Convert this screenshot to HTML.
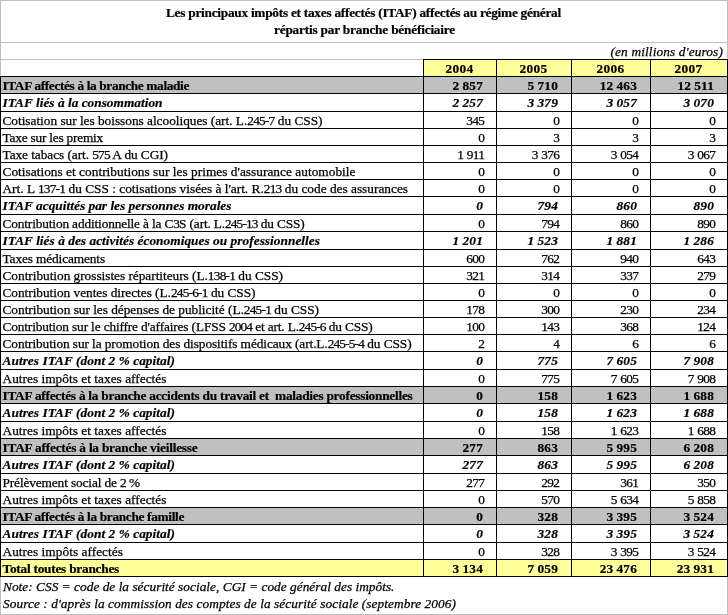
<!DOCTYPE html>
<html lang="fr"><head><meta charset="utf-8"><title>ITAF</title>
<style>
html,body{margin:0;padding:0;background:#fff;}
body{width:728px;height:615px;position:relative;overflow:hidden;font-family:"Liberation Serif",serif;font-size:13.33px;color:#000;}
.a{position:absolute;white-space:pre;line-height:17px;height:17px;-webkit-text-stroke:0.25px #000;}
.l{position:absolute;background:#000;}
.gl{position:absolute;background:#c0c0c0;}
.bg{position:absolute;}
.b{font-weight:bold;-webkit-text-stroke:0.2px #000;}
.i{font-style:italic;}
.r{text-align:right;}
.c{text-align:center;}
.nr{letter-spacing:-0.6px;word-spacing:0.6px;}
.br{letter-spacing:0.3px;word-spacing:-0.8px;}
</style></head><body>

<div class="gl" style="left:0;top:0;width:728px;height:1px"></div>
<div class="gl" style="left:0;top:0;width:1px;height:615px"></div>
<div class="gl" style="left:727px;top:0;width:1px;height:615px"></div>
<div class="gl" style="left:0;top:614px;width:728px;height:1px"></div>
<div class="gl" style="left:0;top:42px;width:728px;height:1px"></div>
<div class="gl" style="left:0;top:59px;width:423px;height:1px"></div>
<div id="t1" class="a b" style="left:166px;top:4px;letter-spacing:-0.265px">Les principaux impôts et taxes affectés (ITAF) affectés au régime général</div>
<div id="t2" class="a b" style="left:274px;top:21px;letter-spacing:-0.210px">répartis par branche bénéficiaire</div>
<div id="unit" class="a i" style="left:610.5px;top:43px;letter-spacing:0.132px">(en millions d'euros)</div>
<div class="bg" style="left:423px;top:59px;width:305px;height:18px;background:#ffff99"></div>
<div class="a b c" style="left:423px;top:60px;width:73px;letter-spacing:0.3px">2004</div>
<div class="a b c" style="left:496px;top:60px;width:75px;letter-spacing:0.3px">2005</div>
<div class="a b c" style="left:571px;top:60px;width:79px;letter-spacing:0.3px">2006</div>
<div class="a b c" style="left:650px;top:60px;width:77px;letter-spacing:0.3px">2007</div>
<div class="bg" style="left:0;top:76px;width:728px;height:17px;background:#c0c0c0"></div>
<div id="r0" class="a b" style="left:2.5px;top:77px;letter-spacing:-0.361px">ITAF affectés à la branche maladie</div>
<div class="a b br r" style="left:424px;top:77px;width:59.3px;">2 857</div>
<div class="a b br r" style="left:497px;top:77px;width:61.3px;">5 710</div>
<div class="a b br r" style="left:572px;top:77px;width:65.3px;">12 463</div>
<div class="a b br r" style="left:651px;top:77px;width:63.3px;">12 511</div>
<div id="r1" class="a b i" style="left:2.5px;top:94px;letter-spacing:0.010px">ITAF liés à la consommation</div>
<div class="a b i br r" style="left:424px;top:94px;width:59.3px;">2 257</div>
<div class="a b i br r" style="left:497px;top:94px;width:61.3px;">3 379</div>
<div class="a b i br r" style="left:572px;top:94px;width:65.3px;">3 057</div>
<div class="a b i br r" style="left:651px;top:94px;width:63.3px;">3 070</div>
<div id="r2" class="a " style="left:2.5px;top:112px;letter-spacing:-0.022px">Cotisation sur les boissons alcooliques (art. L.<span style="letter-spacing:-0.772px">245-7</span> du CSS)</div>
<div class="a nr r" style="left:424px;top:112px;width:60.4px;">345</div>
<div class="a nr r" style="left:497px;top:112px;width:62.4px;">0</div>
<div class="a nr r" style="left:572px;top:112px;width:66.4px;">0</div>
<div class="a nr r" style="left:651px;top:112px;width:64.4px;">0</div>
<div id="r3" class="a " style="left:2.5px;top:129px;letter-spacing:-0.214px">Taxe sur les premix</div>
<div class="a nr r" style="left:424px;top:129px;width:60.4px;">0</div>
<div class="a nr r" style="left:497px;top:129px;width:62.4px;">3</div>
<div class="a nr r" style="left:572px;top:129px;width:66.4px;">3</div>
<div class="a nr r" style="left:651px;top:129px;width:64.4px;">3</div>
<div id="r4" class="a " style="left:2.5px;top:146px;letter-spacing:-0.064px">Taxe tabacs (art. <span style="letter-spacing:-0.814px">575</span> A du CGI)</div>
<div class="a nr r" style="left:424px;top:146px;width:60.4px;">1 911</div>
<div class="a nr r" style="left:497px;top:146px;width:62.4px;">3 376</div>
<div class="a nr r" style="left:572px;top:146px;width:66.4px;">3 054</div>
<div class="a nr r" style="left:651px;top:146px;width:64.4px;">3 067</div>
<div id="r5" class="a " style="left:2.5px;top:163px;letter-spacing:0.023px">Cotisations et contributions sur les primes d'assurance automobile</div>
<div class="a nr r" style="left:424px;top:163px;width:60.4px;">0</div>
<div class="a nr r" style="left:497px;top:163px;width:62.4px;">0</div>
<div class="a nr r" style="left:572px;top:163px;width:66.4px;">0</div>
<div class="a nr r" style="left:651px;top:163px;width:64.4px;">0</div>
<div id="r6" class="a " style="left:2.5px;top:180px;letter-spacing:-0.003px">Art. L <span style="letter-spacing:-0.753px">137-1</span> du CSS : cotisations visées à l'art. R.<span style="letter-spacing:-0.753px">213</span> du code des assurances</div>
<div class="a nr r" style="left:424px;top:180px;width:60.4px;">0</div>
<div class="a nr r" style="left:497px;top:180px;width:62.4px;">0</div>
<div class="a nr r" style="left:572px;top:180px;width:66.4px;">0</div>
<div class="a nr r" style="left:651px;top:180px;width:64.4px;">0</div>
<div id="r7" class="a b i" style="left:2.5px;top:197px;letter-spacing:0.020px">ITAF acquittés par les personnes morales</div>
<div class="a b i br r" style="left:424px;top:197px;width:59.3px;">0</div>
<div class="a b i br r" style="left:497px;top:197px;width:61.3px;">794</div>
<div class="a b i br r" style="left:572px;top:197px;width:65.3px;">860</div>
<div class="a b i br r" style="left:651px;top:197px;width:63.3px;">890</div>
<div id="r8" class="a " style="left:2.5px;top:215px;letter-spacing:-0.141px">Contribution additionnelle à la C<span style="letter-spacing:-0.891px">3</span>S (art. L.<span style="letter-spacing:-0.891px">245-13</span> du CSS)</div>
<div class="a nr r" style="left:424px;top:215px;width:60.4px;">0</div>
<div class="a nr r" style="left:497px;top:215px;width:62.4px;">794</div>
<div class="a nr r" style="left:572px;top:215px;width:66.4px;">860</div>
<div class="a nr r" style="left:651px;top:215px;width:64.4px;">890</div>
<div id="r9" class="a b i" style="left:2.5px;top:232px;letter-spacing:0.034px">ITAF liés à des activités économiques ou professionnelles</div>
<div class="a b i br r" style="left:424px;top:232px;width:59.3px;">1 201</div>
<div class="a b i br r" style="left:497px;top:232px;width:61.3px;">1 523</div>
<div class="a b i br r" style="left:572px;top:232px;width:65.3px;">1 881</div>
<div class="a b i br r" style="left:651px;top:232px;width:63.3px;">1 286</div>
<div id="r10" class="a " style="left:2.5px;top:250px;letter-spacing:-0.120px">Taxes médicaments</div>
<div class="a nr r" style="left:424px;top:250px;width:60.4px;">600</div>
<div class="a nr r" style="left:497px;top:250px;width:62.4px;">762</div>
<div class="a nr r" style="left:572px;top:250px;width:66.4px;">940</div>
<div class="a nr r" style="left:651px;top:250px;width:64.4px;">643</div>
<div id="r11" class="a " style="left:2.5px;top:267px;letter-spacing:-0.030px">Contribution grossistes répartiteurs (L.<span style="letter-spacing:-0.780px">138-1</span> du CSS)</div>
<div class="a nr r" style="left:424px;top:267px;width:60.4px;">321</div>
<div class="a nr r" style="left:497px;top:267px;width:62.4px;">314</div>
<div class="a nr r" style="left:572px;top:267px;width:66.4px;">337</div>
<div class="a nr r" style="left:651px;top:267px;width:64.4px;">279</div>
<div id="r12" class="a " style="left:2.5px;top:284px;letter-spacing:-0.035px">Contribution ventes directes (L.<span style="letter-spacing:-0.785px">245-6-1</span> du CSS)</div>
<div class="a nr r" style="left:424px;top:284px;width:60.4px;">0</div>
<div class="a nr r" style="left:497px;top:284px;width:62.4px;">0</div>
<div class="a nr r" style="left:572px;top:284px;width:66.4px;">0</div>
<div class="a nr r" style="left:651px;top:284px;width:64.4px;">0</div>
<div id="r13" class="a " style="left:2.5px;top:301px;letter-spacing:-0.025px">Contribution sur les dépenses de publicité (L.<span style="letter-spacing:-0.775px">245-1</span> du CSS)</div>
<div class="a nr r" style="left:424px;top:301px;width:60.4px;">178</div>
<div class="a nr r" style="left:497px;top:301px;width:62.4px;">300</div>
<div class="a nr r" style="left:572px;top:301px;width:66.4px;">230</div>
<div class="a nr r" style="left:651px;top:301px;width:64.4px;">234</div>
<div id="r14" class="a " style="left:2.5px;top:318px;letter-spacing:-0.145px">Contribution sur le chiffre d'affaires (LFSS <span style="letter-spacing:-0.895px">2004</span> et art. L.<span style="letter-spacing:-0.895px">245-6</span> du CSS)</div>
<div class="a nr r" style="left:424px;top:318px;width:60.4px;">100</div>
<div class="a nr r" style="left:497px;top:318px;width:62.4px;">143</div>
<div class="a nr r" style="left:572px;top:318px;width:66.4px;">368</div>
<div class="a nr r" style="left:651px;top:318px;width:64.4px;">124</div>
<div id="r15" class="a " style="left:2.5px;top:335px;letter-spacing:-0.087px">Contribution sur la promotion des dispositifs médicaux (art.L.<span style="letter-spacing:-0.837px">245-5-4</span> du CSS)</div>
<div class="a nr r" style="left:424px;top:335px;width:60.4px;">2</div>
<div class="a nr r" style="left:497px;top:335px;width:62.4px;">4</div>
<div class="a nr r" style="left:572px;top:335px;width:66.4px;">6</div>
<div class="a nr r" style="left:651px;top:335px;width:64.4px;">6</div>
<div id="r16" class="a b i" style="left:2.5px;top:352px;letter-spacing:0.043px">Autres ITAF (dont 2 % capital)</div>
<div class="a b i br r" style="left:424px;top:352px;width:59.3px;">0</div>
<div class="a b i br r" style="left:497px;top:352px;width:61.3px;">775</div>
<div class="a b i br r" style="left:572px;top:352px;width:65.3px;">7 605</div>
<div class="a b i br r" style="left:651px;top:352px;width:63.3px;">7 908</div>
<div id="r17" class="a " style="left:2.5px;top:370px;letter-spacing:0.021px">Autres impôts et taxes affectés</div>
<div class="a nr r" style="left:424px;top:370px;width:60.4px;">0</div>
<div class="a nr r" style="left:497px;top:370px;width:62.4px;">775</div>
<div class="a nr r" style="left:572px;top:370px;width:66.4px;">7 605</div>
<div class="a nr r" style="left:651px;top:370px;width:64.4px;">7 908</div>
<div class="bg" style="left:0;top:386px;width:728px;height:17px;background:#c0c0c0"></div>
<div id="r18" class="a b" style="left:2.5px;top:387px;letter-spacing:-0.254px">ITAF affectés à la branche accidents du travail et  maladies professionnelles</div>
<div class="a b br r" style="left:424px;top:387px;width:59.3px;">0</div>
<div class="a b br r" style="left:497px;top:387px;width:61.3px;">158</div>
<div class="a b br r" style="left:572px;top:387px;width:65.3px;">1 623</div>
<div class="a b br r" style="left:651px;top:387px;width:63.3px;">1 688</div>
<div id="r19" class="a b i" style="left:2.5px;top:404px;letter-spacing:0.043px">Autres ITAF (dont 2 % capital)</div>
<div class="a b i br r" style="left:424px;top:404px;width:59.3px;">0</div>
<div class="a b i br r" style="left:497px;top:404px;width:61.3px;">158</div>
<div class="a b i br r" style="left:572px;top:404px;width:65.3px;">1 623</div>
<div class="a b i br r" style="left:651px;top:404px;width:63.3px;">1 688</div>
<div id="r20" class="a " style="left:2.5px;top:422px;letter-spacing:0.021px">Autres impôts et taxes affectés</div>
<div class="a nr r" style="left:424px;top:422px;width:60.4px;">0</div>
<div class="a nr r" style="left:497px;top:422px;width:62.4px;">158</div>
<div class="a nr r" style="left:572px;top:422px;width:66.4px;">1 623</div>
<div class="a nr r" style="left:651px;top:422px;width:64.4px;">1 688</div>
<div class="bg" style="left:0;top:438px;width:728px;height:17px;background:#c0c0c0"></div>
<div id="r21" class="a b" style="left:2.5px;top:439px;letter-spacing:-0.222px">ITAF affectés à la branche vieillesse</div>
<div class="a b br r" style="left:424px;top:439px;width:59.3px;">277</div>
<div class="a b br r" style="left:497px;top:439px;width:61.3px;">863</div>
<div class="a b br r" style="left:572px;top:439px;width:65.3px;">5 995</div>
<div class="a b br r" style="left:651px;top:439px;width:63.3px;">6 208</div>
<div id="r22" class="a b i" style="left:2.5px;top:456px;letter-spacing:0.043px">Autres ITAF (dont 2 % capital)</div>
<div class="a b i br r" style="left:424px;top:456px;width:59.3px;">277</div>
<div class="a b i br r" style="left:497px;top:456px;width:61.3px;">863</div>
<div class="a b i br r" style="left:572px;top:456px;width:65.3px;">5 995</div>
<div class="a b i br r" style="left:651px;top:456px;width:63.3px;">6 208</div>
<div id="r23" class="a " style="left:2.5px;top:474px;letter-spacing:-0.126px">Prélèvement social de <span style="letter-spacing:-0.876px">2</span> %</div>
<div class="a nr r" style="left:424px;top:474px;width:60.4px;">277</div>
<div class="a nr r" style="left:497px;top:474px;width:62.4px;">292</div>
<div class="a nr r" style="left:572px;top:474px;width:66.4px;">361</div>
<div class="a nr r" style="left:651px;top:474px;width:64.4px;">350</div>
<div id="r24" class="a " style="left:2.5px;top:491px;letter-spacing:0.021px">Autres impôts et taxes affectés</div>
<div class="a nr r" style="left:424px;top:491px;width:60.4px;">0</div>
<div class="a nr r" style="left:497px;top:491px;width:62.4px;">570</div>
<div class="a nr r" style="left:572px;top:491px;width:66.4px;">5 634</div>
<div class="a nr r" style="left:651px;top:491px;width:64.4px;">5 858</div>
<div class="bg" style="left:0;top:507px;width:728px;height:17px;background:#c0c0c0"></div>
<div id="r25" class="a b" style="left:2.5px;top:508px;letter-spacing:-0.334px">ITAF affectés à la branche famille</div>
<div class="a b br r" style="left:424px;top:508px;width:59.3px;">0</div>
<div class="a b br r" style="left:497px;top:508px;width:61.3px;">328</div>
<div class="a b br r" style="left:572px;top:508px;width:65.3px;">3 395</div>
<div class="a b br r" style="left:651px;top:508px;width:63.3px;">3 524</div>
<div id="r26" class="a b i" style="left:2.5px;top:525px;letter-spacing:0.043px">Autres ITAF (dont 2 % capital)</div>
<div class="a b i br r" style="left:424px;top:525px;width:59.3px;">0</div>
<div class="a b i br r" style="left:497px;top:525px;width:61.3px;">328</div>
<div class="a b i br r" style="left:572px;top:525px;width:65.3px;">3 395</div>
<div class="a b i br r" style="left:651px;top:525px;width:63.3px;">3 524</div>
<div id="r27" class="a " style="left:2.5px;top:543px;letter-spacing:0.037px">Autres impôts affectés</div>
<div class="a nr r" style="left:424px;top:543px;width:60.4px;">0</div>
<div class="a nr r" style="left:497px;top:543px;width:62.4px;">328</div>
<div class="a nr r" style="left:572px;top:543px;width:66.4px;">3 395</div>
<div class="a nr r" style="left:651px;top:543px;width:64.4px;">3 524</div>
<div class="bg" style="left:0;top:559px;width:728px;height:17px;background:#ffff99"></div>
<div id="r28" class="a b" style="left:2.5px;top:560px;letter-spacing:-0.248px">Total toutes branches</div>
<div class="a b br r" style="left:424px;top:560px;width:59.3px;">3 134</div>
<div class="a b br r" style="left:497px;top:560px;width:61.3px;">7 059</div>
<div class="a b br r" style="left:572px;top:560px;width:65.3px;">23 476</div>
<div class="a b br r" style="left:651px;top:560px;width:63.3px;">23 931</div>
<div class="l" style="left:0;top:76px;width:728px;height:1px"></div>
<div class="l" style="left:0;top:93px;width:728px;height:1px"></div>
<div class="l" style="left:0;top:111px;width:728px;height:1px"></div>
<div class="l" style="left:0;top:128px;width:728px;height:1px"></div>
<div class="l" style="left:0;top:145px;width:728px;height:1px"></div>
<div class="l" style="left:0;top:162px;width:728px;height:1px"></div>
<div class="l" style="left:0;top:179px;width:728px;height:1px"></div>
<div class="l" style="left:0;top:196px;width:728px;height:1px"></div>
<div class="l" style="left:0;top:214px;width:728px;height:1px"></div>
<div class="l" style="left:0;top:231px;width:728px;height:1px"></div>
<div class="l" style="left:0;top:249px;width:728px;height:1px"></div>
<div class="l" style="left:0;top:266px;width:728px;height:1px"></div>
<div class="l" style="left:0;top:283px;width:728px;height:1px"></div>
<div class="l" style="left:0;top:300px;width:728px;height:1px"></div>
<div class="l" style="left:0;top:317px;width:728px;height:1px"></div>
<div class="l" style="left:0;top:334px;width:728px;height:1px"></div>
<div class="l" style="left:0;top:351px;width:728px;height:1px"></div>
<div class="l" style="left:0;top:369px;width:728px;height:1px"></div>
<div class="l" style="left:0;top:386px;width:728px;height:1px"></div>
<div class="l" style="left:0;top:403px;width:728px;height:1px"></div>
<div class="l" style="left:0;top:421px;width:728px;height:1px"></div>
<div class="l" style="left:0;top:438px;width:728px;height:1px"></div>
<div class="l" style="left:0;top:455px;width:728px;height:1px"></div>
<div class="l" style="left:0;top:473px;width:728px;height:1px"></div>
<div class="l" style="left:0;top:490px;width:728px;height:1px"></div>
<div class="l" style="left:0;top:507px;width:728px;height:1px"></div>
<div class="l" style="left:0;top:524px;width:728px;height:1px"></div>
<div class="l" style="left:0;top:542px;width:728px;height:1px"></div>
<div class="l" style="left:0;top:559px;width:728px;height:1px"></div>
<div class="l" style="left:0;top:576px;width:728px;height:1px"></div>
<div class="l" style="left:423px;top:59px;width:305px;height:1px"></div>
<div class="l" style="left:0;top:76px;width:1px;height:501px"></div>
<div class="l" style="left:423px;top:59px;width:1px;height:518px"></div>
<div class="l" style="left:496px;top:59px;width:1px;height:518px"></div>
<div class="l" style="left:571px;top:59px;width:1px;height:518px"></div>
<div class="l" style="left:650px;top:59px;width:1px;height:518px"></div>
<div class="l" style="left:727px;top:59px;width:1px;height:518px"></div>
<div id="note" class="a i" style="left:3px;top:578px;letter-spacing:0.021px">Note: CSS = code de la sécurité sociale, CGI = code général des impôts.</div>
<div id="src" class="a i" style="left:3px;top:595px;letter-spacing:0.067px">Source : d'après la commission des comptes de la sécurité sociale (septembre 2006)</div>
</body></html>
